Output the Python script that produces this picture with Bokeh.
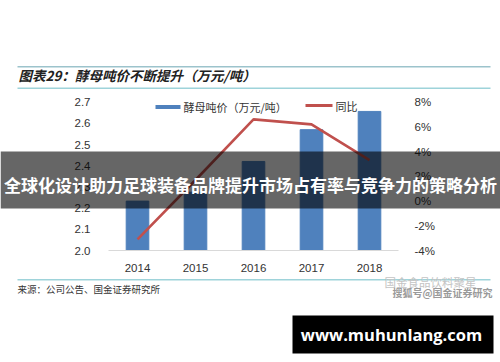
from bokeh.plotting import figure
from bokeh.models import (Range1d, LinearAxis, FixedTicker, Label,
                          BoxAnnotation, ColumnDataSource)
from bokeh.embed import file_html
from bokeh.resources import INLINE

# ---- data ----
years = ["2014", "2015", "2016", "2017", "2018"]
price = [2.233, 2.275, 2.42, 2.57, 2.656]      # 酵母吨价（万元/吨）
growth = [-3.1, 1.7, 6.6, 6.2, 3.3]             # 同比 (%)
left_ticks = [2.0, 2.1, 2.2, 2.3, 2.4, 2.5, 2.6, 2.7]
right_ticks = [-4, -2, 0, 2, 4, 6, 8]

title_text = "图表29：酵母吨价不断提升（万元/吨）"
legend_bar = "酵母吨价（万元/吨）"
legend_line = "同比"
source_text = "来源：公司公告、国金证券研究所"
banner_text = "全球化设计助力足球装备品牌提升市场占有率与竞争力的策略分析"
wm1 = "国金食品饮料聚星"
wm2 = "搜狐号@国金证券研究"
site = "www.muhunlang.com"

BLUE = "#4f81bd"
RED = "#c0504d"
TEAL = "#9ed3da"

W, H = 500, 362
# plot area in canvas pixels
PL, PR, PT, PB = 108, 398, 101.6, 250
n = len(years)
xs = list(range(n))
ux = (PR - PL) / n                       # px per category
x0 = -0.5 - PL / ux
x1 = n - 0.5 + (W - PR) / ux
ymin, ymax = left_ticks[0], left_ticks[-1]
uy = (PB - PT) / (ymax - ymin)
y0 = ymin - (H - PB) / uy
y1 = ymax + PT / uy
pmin, pmax = right_ticks[0], right_ticks[-1]
up = (PB - PT) / (pmax - pmin)
p0 = pmin - (H - PB) / up
p1 = pmax + PT / up

p = figure(width=W, height=H, output_backend="svg", toolbar_location=None,
           x_range=Range1d(x0, x1), y_range=Range1d(y0, y1),
           min_border=0)
p.min_border_left = p.min_border_right = p.min_border_top = p.min_border_bottom = 0
p.outline_line_color = None
p.background_fill_color = "white"
p.border_fill_color = "white"
p.xgrid.grid_line_color = None
p.ygrid.grid_line_color = None
p.extra_y_ranges = {"pct": Range1d(p0, p1)}

src = ColumnDataSource(dict(x=xs, price=price, growth=growth))
p.vbar(x="x", top="price", bottom=ymin, width=0.39, color=BLUE, source=src)
p.line(x="x", y="growth", y_range_name="pct", line_color=RED, line_width=2.6, source=src)

FONT = "Liberation Sans"
CJK = "Noto Sans CJK SC"

# left axis
ya = p.yaxis[0]
ya.fixed_location = -0.5
ya.ticker = FixedTicker(ticks=left_ticks)
ya.major_label_overrides = {t: f"{t:.1f}" for t in left_ticks}
ya.axis_line_color = None
ya.major_tick_line_color = None
ya.minor_tick_line_color = None
ya.major_label_standoff = 12
ya.major_label_text_font = FONT
ya.major_label_text_font_size = "11.5px"
ya.major_label_text_color = "#333333"

# right axis
ra = LinearAxis(y_range_name="pct", ticker=FixedTicker(ticks=right_ticks))
ra.fixed_location = n - 0.5
ra.major_label_overrides = {t: f"{t}%" for t in right_ticks}
ra.axis_line_color = None
ra.major_tick_line_color = None
ra.minor_tick_line_color = None
ra.major_label_standoff = 10
ra.major_label_text_font = FONT
ra.major_label_text_font_size = "11.5px"
ra.major_label_text_color = "#333333"
p.add_layout(ra, "right")

# x axis
xa = p.xaxis[0]
xa.fixed_location = ymin
xa.ticker = FixedTicker(ticks=xs)
xa.major_label_overrides = {i: y for i, y in zip(xs, years)}
xa.bounds = (-0.5, n - 0.5)
xa.axis_line_color = "#d9d9d9"
xa.axis_line_width = 1
xa.major_tick_line_color = None
xa.minor_tick_line_color = None
xa.major_label_standoff = 7
xa.major_label_text_font = FONT
xa.major_label_text_font_size = "11.5px"
xa.major_label_text_color = "#333333"


def sy(cy):
    return H - cy


def box(l, r, t, b, color, alpha=1.0):
    p.add_layout(BoxAnnotation(left=l, right=r, top=sy(t), bottom=sy(b),
                               left_units="screen", right_units="screen",
                               top_units="screen", bottom_units="screen",
                               fill_color=color, fill_alpha=alpha, line_color=None,
                               level="annotation"))


def label(cx, cy, text, size, color="#222222", font=CJK, style="normal",
          align="left", baseline="middle"):
    p.add_layout(Label(x=cx, y=sy(cy), x_units="screen", y_units="screen",
                       text=text, text_font=font, text_font_size=size,
                       text_font_style=style, text_color=color,
                       text_align=align, text_baseline=baseline))


# header lines and title
box(17, 490, 65.5, 67, "#9cc3cc")
box(17, 490, 87, 88.5, TEAL)
label(18, 74, title_text, "13.5px", "#222222", CJK, "bold italic")

# legend
box(155, 180, 104.5, 108.5, BLUE)
label(183, 106, legend_bar, "11px", "#333333", CJK)
box(305, 332, 103.5, 106.5, RED)
label(335, 105, legend_line, "11px", "#333333", CJK)

# footer line and source
box(17, 490, 278.5, 280, TEAL)
label(17, 288, source_text, "9.5px", "#333333", CJK)

# watermark
label(384, 281, wm1, "11.5px", "#c4c4c4", CJK)
label(392, 292, wm2, "10px", "#9a9a9a", CJK, "bold")

# banner overlay
box(0, W, 151, 208, "#000000", 0.6)
label(250, 184, banner_text, "17px", "#ffffff", CJK, "bold", "center")

# site box
box(292, 493, 315, 353, "#000000")
label(391, 334, site, "16.5px", "#ffffff", "Open Sans", "bold", "center")

open("out.html", "w").write(file_html(p, INLINE))
